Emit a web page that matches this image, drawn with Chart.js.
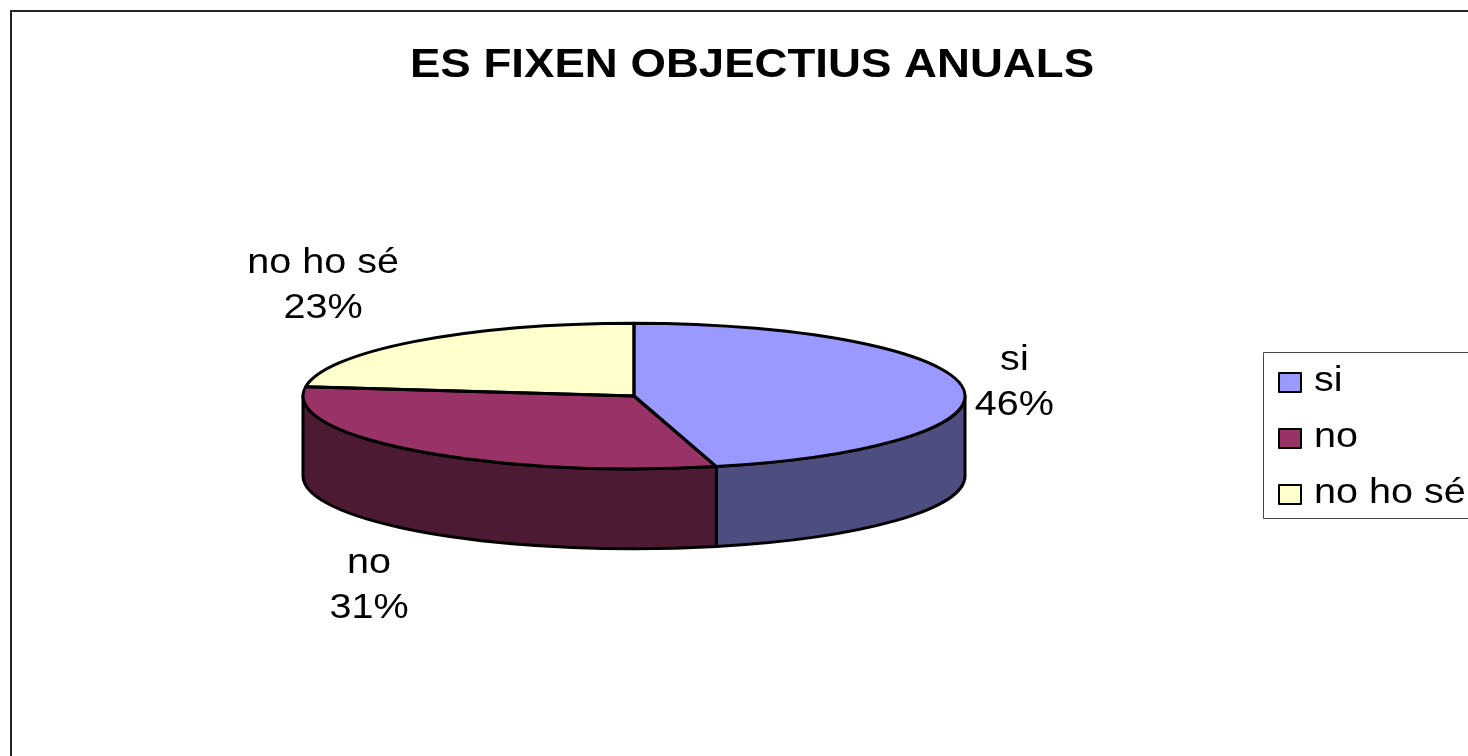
<!DOCTYPE html>
<html>
<head>
<meta charset="utf-8">
<style>
  html, body { margin: 0; padding: 0; background: #fff; overflow: hidden; }
  #wrap { width: 1468px; height: 756px; }
</style>
<script src="https://cdn.jsdelivr.net/npm/chart.js@4"></script>
</head>
<body>
<div id="wrap"><canvas id="chart"></canvas></div>
<script>
const titleText = "ES FIXEN OBJECTIUS ANUALS";
const categories = ["si", "no", "no ho sé"];
const shares = [46, 31, 23];
const topColors = ["#9999ff", "#993366", "#ffffcc"];
const sideColors = ["#4d4d80", "#4d1a33", "#80806a"];

const squash = 0.22; // flatten the pie to the tilted ellipse
const depth = 80;
const textStretch = 1.13; // reference text is wider than Arial
const titleStretch = 1.14;
const titleCenter = 752;
const labelFont = "35px 'Liberation Sans', Arial, sans-serif";

// offset of each data label from its slice's rim point
const labelOffset = [[52, -7], [-46, 132], [-92, -58]];

function stretchedText(ctx, text, x, y, align) {
  ctx.save();
  ctx.translate(x, y);
  ctx.scale(textStretch, 1);
  ctx.textAlign = align;
  ctx.fillText(text, 0, 0);
  ctx.restore();
}

const pie3d = {
  id: "pie3d",
  afterLayout(chart) {
    // title is centred on the whole chart, not on the pie's area
    chart.titleBlock.left = titleCenter - 700;
    chart.titleBlock.right = titleCenter + 700;
  },
  beforeDraw(chart) {
    const ctx = chart.ctx;
    ctx.save();
    // chart frame, only top and left fall inside the picture
    ctx.strokeStyle = "#222";
    ctx.lineWidth = 2;
    ctx.beginPath();
    ctx.moveTo(11, 756);
    ctx.lineTo(11, 11);
    ctx.lineTo(1468, 11);
    ctx.stroke();
    ctx.restore();
    // the title box is drawn next, widen it around its centre
    ctx.save();
    ctx.translate(titleCenter, 0);
    ctx.scale(titleStretch, 1);
    ctx.translate(-titleCenter, 0);
  },
  beforeDatasetsDraw(chart) {
    const ctx = chart.ctx;
    ctx.restore();
    const arcs = chart.getDatasetMeta(0).data;
    const a0 = arcs[0];
    const cx = a0.x, cy = a0.y, r = a0.outerRadius;
    const ry = r * squash;

    // side walls, only the front half of the rim shows
    arcs.forEach((arc, i) => {
      const from = Math.max(arc.startAngle, 0);
      const to = Math.min(arc.endAngle, Math.PI);
      if (to <= from) return;
      ctx.beginPath();
      ctx.ellipse(cx, cy, r, ry, 0, from, to);
      ctx.ellipse(cx, cy + depth, r, ry, 0, to, from, true);
      ctx.closePath();
      ctx.fillStyle = sideColors[i];
      ctx.fill();
      ctx.lineWidth = 3;
      ctx.lineJoin = "round";
      ctx.strokeStyle = "#000";
      ctx.stroke();
    });

    ctx.save();
    ctx.translate(cx, cy);
    ctx.scale(1, squash);
    ctx.translate(-cx, -cy);
  },
  afterDatasetsDraw(chart) {
    const ctx = chart.ctx;
    ctx.restore();
    const arcs = chart.getDatasetMeta(0).data;
    const a0 = arcs[0];
    const cx = a0.x, cy = a0.y, r = a0.outerRadius;
    const ry = r * squash;

    // outlines are stroked here so the pen is not squashed with the pie
    ctx.save();
    ctx.lineWidth = 3;
    ctx.lineJoin = "round";
    ctx.strokeStyle = "#000";
    arcs.forEach((arc) => {
      ctx.beginPath();
      ctx.moveTo(cx, cy);
      ctx.ellipse(cx, cy, r, ry, 0, arc.startAngle, arc.endAngle);
      ctx.closePath();
      ctx.stroke();
    });

    // data labels
    ctx.fillStyle = "#000";
    ctx.font = labelFont;
    ctx.textBaseline = "alphabetic";
    const total = shares.reduce((a, b) => a + b, 0);
    arcs.forEach((arc, i) => {
      const mid = (arc.startAngle + arc.endAngle) / 2;
      const x = cx + r * Math.cos(mid) + labelOffset[i][0];
      const y = cy + ry * Math.sin(mid) + labelOffset[i][1];
      stretchedText(ctx, categories[i], x, y - 10, "center");
      stretchedText(ctx, Math.round(shares[i] / total * 100) + "%", x, y + 35, "center");
    });

    // legend box, runs off the right side like the reference
    ctx.strokeStyle = "#444";
    ctx.lineWidth = 1;
    ctx.strokeRect(1263.5, 352.5, 220, 166);
    categories.forEach((label, i) => {
      const y = 373 + i * 56;
      ctx.fillStyle = topColors[i];
      ctx.fillRect(1279, y, 22, 19);
      ctx.strokeStyle = "#000";
      ctx.lineWidth = 2;
      ctx.strokeRect(1279, y, 22, 19);
      ctx.fillStyle = "#000";
      stretchedText(ctx, label, 1314, y + 18, "left");
    });
    ctx.restore();
  }
};

new Chart(document.getElementById("chart"), {
  type: "pie",
  data: {
    labels: categories,
    datasets: [{
      data: shares,
      backgroundColor: topColors,
      borderWidth: 0
    }]
  },
  options: {
    responsive: true,
    maintainAspectRatio: false,
    animation: false,
    layout: { padding: { left: 303, right: 503, top: 0, bottom: 29 } },
    plugins: {
      legend: { display: false },
      tooltip: { enabled: false },
      title: {
        display: true,
        text: titleText,
        color: "#000",
        font: { family: "'Liberation Sans', Arial, sans-serif", size: 40, weight: "bold", lineHeight: 1 },
        padding: { top: 46, bottom: -21 }
      }
    }
  },
  plugins: [pie3d]
});
</script>
</body>
</html>
